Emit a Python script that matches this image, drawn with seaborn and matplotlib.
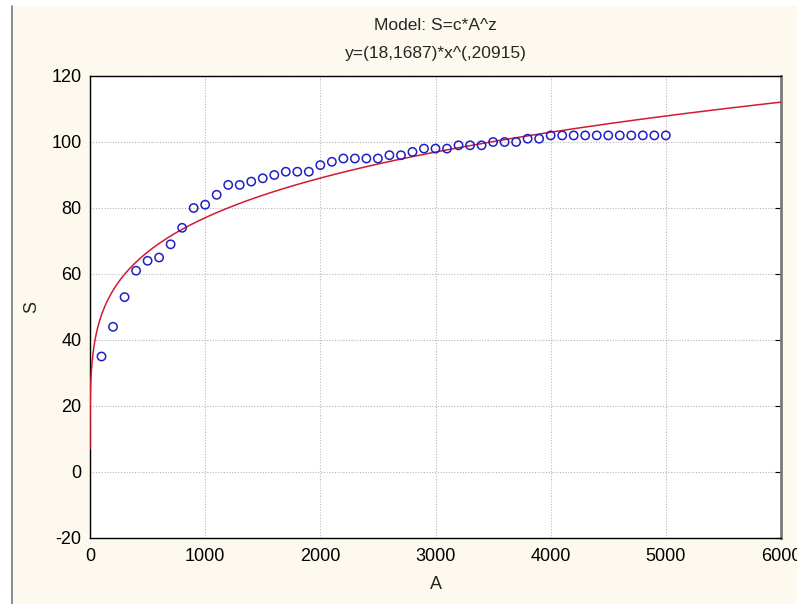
import numpy as np
import pandas as pd
import matplotlib.pyplot as plt
import seaborn as sns
from matplotlib.patches import Rectangle
from matplotlib.lines import Line2D

# observed points (area A, species S)
area = [100, 200, 300, 400, 500, 600, 700, 800, 900, 1000,
        1100, 1200, 1300, 1400, 1500, 1600, 1700, 1800, 1900, 2000,
        2100, 2200, 2300, 2400, 2500, 2600, 2700, 2800, 2900, 3000,
        3100, 3200, 3300, 3400, 3500, 3600, 3700, 3800, 3900, 4000,
        4100, 4200, 4300, 4400, 4500, 4600, 4700, 4800, 4900, 5000]
species = [35, 44, 53, 61, 64, 65, 69, 74, 80, 81,
           84, 87, 87, 88, 89, 90, 91, 91, 91, 93,
           94, 95, 95, 95, 95, 96, 96, 97, 98, 98,
           98, 99, 99, 99, 100, 100, 100, 101, 101, 102,
           102, 102, 102, 102, 102, 102, 102, 102, 102, 102]

# fitted model from the title: S = c * A^z
c_fit = 18.1687
z_fit = 0.20915

x_ticks = [0, 1000, 2000, 3000, 4000, 5000, 6000]
y_ticks = [-20, 0, 20, 40, 60, 80, 100, 120]

pts = pd.DataFrame({"A": area, "S": species})
fit_x = np.geomspace(0.01, 6000, 800)
fit = pd.DataFrame({"A": fit_x, "S": c_fit * fit_x ** z_fit})

sns.set_style("white")
plt.rcParams["font.family"] = ["Liberation Sans", "DejaVu Sans"]
plt.rcParams["axes.unicode_minus"] = False

fig = plt.figure(figsize=(7.97, 6.04), dpi=100, facecolor="white")
# cream panel behind the chart, grey rule on its left edge
fig.add_artist(Rectangle((12 / 797, 0), 1, 1 - 6 / 604, transform=fig.transFigure,
                         facecolor="#FDF9EF", edgecolor="none", zorder=-10))
fig.add_artist(Line2D([12 / 797, 12 / 797], [0, 1 - 6 / 604], transform=fig.transFigure,
                      color="#7a7a7a", linewidth=1.2, zorder=-9))
ax = fig.add_axes([90 / 797, 1 - 538 / 604, (781 - 90) / 797, (538 - 76) / 604])
ax.set_facecolor("white")

sns.lineplot(data=fit, x="A", y="S", ax=ax, color="#D21A30", linewidth=1.1, zorder=3)
sns.scatterplot(data=pts, x="A", y="S", ax=ax, marker="o", s=36, facecolor="none",
                edgecolor="#2020C0", linewidth=1.1, zorder=4)

ax.set_xlim(0, 6000)
ax.set_ylim(-20, 120)
ax.set_xticks(x_ticks)
ax.set_yticks(y_ticks)
ax.grid(True, linestyle=(0, (1, 1.5)), color="#B8B8B8", linewidth=0.8)
ax.tick_params(axis="both", direction="in", length=4, labelsize=13, colors="black")
ax.tick_params(axis="y", right=True, pad=6)
ax.tick_params(axis="x", pad=7)

for side in ["left", "bottom", "top"]:
    ax.spines[side].set_color("black")
    ax.spines[side].set_linewidth(1.0)
ax.spines["right"].set_color("#7a7a7a")
ax.spines["right"].set_linewidth(2.0)

ax.set_xlabel("A", fontsize=13, labelpad=8)
ax.set_ylabel("S", fontsize=13, labelpad=8)
ax.set_title("Model: S=c*A^z\ny=(18,1687)*x^(,20915)", fontsize=12.5,
             linespacing=2.1, pad=13)

fig.savefig("out.png", dpi=100, facecolor=fig.get_facecolor())
